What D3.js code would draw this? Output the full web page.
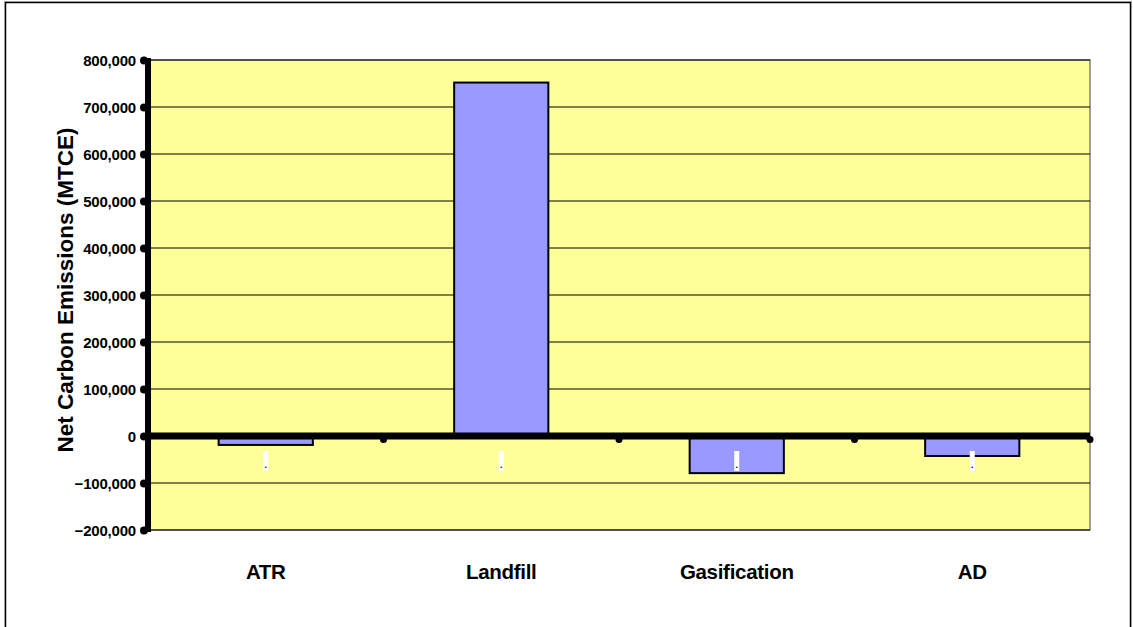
<!DOCTYPE html>
<html>
<head>
<meta charset="utf-8">
<script src="https://cdn.jsdelivr.net/npm/d3@7"></script>
<style>
  html, body { margin: 0; padding: 0; background: #fff; }
  svg { display: block; font-family: "Liberation Sans", Arial, sans-serif; }
</style>
</head>
<body>
<svg id="chart" width="1133" height="627"></svg>
<script>
const categories = ["ATR", "Landfill", "Gasification", "AD"];
const values = [-19000, 752000, -79000, -42500];
const yTicks = [-200000, -100000, 0, 100000, 200000, 300000, 400000, 500000, 600000, 700000, 800000];
const yTitle = "Net Carbon Emissions (MTCE)";

const svg = d3.select("#chart");
const W = 1133, H = 627;
const plot = { left: 148, right: 1090, top: 60, bottom: 530 };

// outer frame
svg.append("rect").attr("x", 5.5).attr("y", 2.5).attr("width", W - 8).attr("height", H + 10)
  .attr("fill", "none").attr("stroke", "#000").attr("stroke-width", 1.5);
svg.append("rect").attr("x", 4.5).attr("y", 1.5).attr("width", W - 6).attr("height", H + 10)
  .attr("fill", "none").attr("stroke", "#999").attr("stroke-width", 1);

const x = d3.scaleBand().domain(categories).range([plot.left, plot.right]).paddingInner(0.6).paddingOuter(0.3);
const y = d3.scaleLinear().domain([-200000, 800000]).range([plot.bottom, plot.top]);

// plot background
svg.append("rect").attr("x", plot.left).attr("y", plot.top)
  .attr("width", plot.right - plot.left).attr("height", plot.bottom - plot.top)
  .attr("fill", "#FFFF99").attr("stroke", "#808080").attr("stroke-width", 1.5);

// gridlines
svg.append("g").selectAll("line").data(yTicks).join("line")
  .attr("x1", plot.left).attr("x2", plot.right)
  .attr("y1", d => y(d)).attr("y2", d => y(d))
  .attr("stroke", "#000").attr("stroke-width", 1);

// bars
svg.append("g").selectAll("rect").data(categories).join("rect")
  .attr("x", d => x(d))
  .attr("width", x.bandwidth())
  .attr("y", (d, i) => Math.min(y(values[i]), y(0)))
  .attr("height", (d, i) => Math.abs(y(values[i]) - y(0)))
  .attr("fill", "#9999FF").attr("stroke", "#000").attr("stroke-width", 2);

// small white labels with a dot
const lab = svg.append("g").selectAll("g").data(categories).join("g")
  .attr("transform", d => `translate(${x(d) + x.bandwidth() / 2},0)`);
lab.append("rect").attr("x", -2.5).attr("y", y(0) + 15).attr("width", 5).attr("height", 20).attr("fill", "#fff");
lab.append("text").attr("x", 0).attr("y", y(0) + 32).attr("text-anchor", "middle")
  .attr("font-size", 9).attr("font-weight", "bold").text(".");

// zero axis line (thick)
svg.append("line").attr("x1", plot.left).attr("x2", plot.right)
  .attr("y1", y(0)).attr("y2", y(0))
  .attr("stroke", "#000").attr("stroke-width", 7).attr("stroke-linecap", "butt");

// category tick marks (dots below axis at band boundaries)
const step = x.step();
const boundaries = categories.map((d, i) => plot.left + step * (i + 1));
svg.append("g").selectAll("circle").data(boundaries).join("circle")
  .attr("cx", d => d).attr("cy", y(0) + 3.5).attr("r", 3.5).attr("fill", "#000");

// y axis via d3
const yAxis = d3.axisLeft(y).tickValues(yTicks).tickSize(0).tickPadding(12)
  .tickFormat(d => d3.format(",")(d));
const ya = svg.append("g").attr("transform", `translate(${plot.left},0)`).call(yAxis);
ya.select(".domain").remove();
ya.selectAll("text").attr("font-size", 15).attr("font-weight", "bold").attr("fill", "#000")
  .attr("font-family", "Liberation Sans, Arial, sans-serif").attr("dy", "0.35em")
  .attr("letter-spacing", "-0.2px");
ya.selectAll(".tick").append("circle").attr("cx", -4).attr("cy", 0).attr("r", 4).attr("fill", "#000");

// thick y axis line
svg.append("line").attr("x1", plot.left).attr("x2", plot.left)
  .attr("y1", plot.top - 2).attr("y2", plot.bottom + 2)
  .attr("stroke", "#000").attr("stroke-width", 6);

// category labels
svg.append("g").selectAll("text").data(categories).join("text")
  .attr("x", d => x(d) + x.bandwidth() / 2).attr("y", 579)
  .attr("text-anchor", "middle").attr("font-size", 20.5).attr("font-weight", "bold").attr("fill", "#000")
  .attr("letter-spacing", "-0.3px")
  .text(d => d);

// y title
svg.append("text").attr("transform", `translate(73,290) rotate(-90)`)
  .attr("text-anchor", "middle").attr("font-size", 22.5).attr("font-weight", "bold").attr("fill", "#000")
  .text(yTitle);
</script>
</body>
</html>
